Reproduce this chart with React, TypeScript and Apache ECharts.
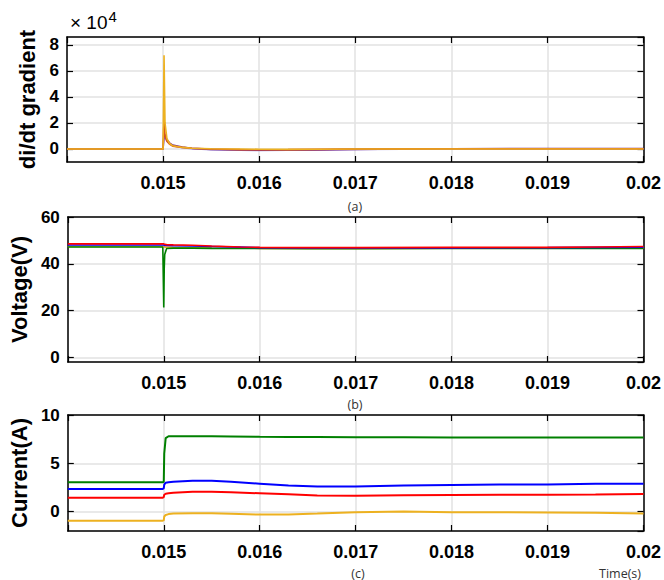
import React, { useEffect, useRef } from "react";
import * as echarts from "echarts";

// ---------- Data ----------
// Panel (a): di/dt gradient (x 10^4)
const tA = [0.014, 0.01499, 0.015, 0.01501, 0.01502, 0.01504, 0.01507, 0.0151, 0.0152, 0.0153, 0.0155, 0.0158, 0.016, 0.0163, 0.0166, 0.017, 0.0175, 0.018, 0.019, 0.02];
const didtYellow = [0, 0, 0, 7.2, 2.0, 0.8, 0.4, 0.25, 0.12, 0.06, 0.02, 0.0, -0.02, -0.03, -0.02, 0, 0, 0, 0, 0];
const didtPurple = [0, 0, 0, 1.2, 1.1, 0.7, 0.45, 0.3, 0.15, 0.05, -0.03, -0.08, -0.1, -0.1, -0.08, -0.03, 0, 0.02, 0.03, 0.03];
const didtOrange = [0, 0, 0, 2.4, 1.0, 0.6, 0.35, 0.22, 0.12, 0.06, 0.0, -0.05, -0.06, -0.05, -0.03, 0, 0.01, 0.02, 0.02, 0.02];
const didtLavender = [0, 0, 0, 1.0, 0.9, 0.6, 0.4, 0.25, 0.1, 0.02, -0.06, -0.1, -0.12, -0.1, -0.07, -0.03, -0.01, 0.0, 0.01, 0.01];

// Panel (b): Voltage (V)
const tB = [0.014, 0.01499, 0.015, 0.015005, 0.01501, 0.01503, 0.0151, 0.0153, 0.0155, 0.0158, 0.016, 0.0165, 0.017, 0.018, 0.019, 0.0195, 0.02];
const vRed = [48.5, 48.5, 48.5, 48.4, 48.3, 48.2, 48.1, 47.9, 47.6, 47.2, 47.0, 46.9, 46.9, 47.0, 47.0, 47.2, 47.4];
const vBlue = [48.0, 48.0, 48.0, 47.9, 47.8, 47.8, 47.7, 47.6, 47.4, 47.1, 46.9, 46.8, 46.8, 46.8, 46.9, 47.0, 47.1];
const vYellow = [47.4, 47.4, 47.4, 47.2, 47.1, 47.1, 47.0, 46.9, 46.8, 46.7, 46.6, 46.6, 46.6, 46.7, 46.7, 46.8, 46.9];
const vGreen = [47.2, 47.2, 21.3, 38.0, 44.0, 46.5, 46.7, 46.7, 46.6, 46.5, 46.5, 46.4, 46.4, 46.5, 46.5, 46.6, 46.6];

// Panel (c): Current (A)
const tC = [0.014, 0.01499, 0.015, 0.015005, 0.01502, 0.01505, 0.0151, 0.0153, 0.0155, 0.0157, 0.016, 0.0163, 0.0166, 0.017, 0.0175, 0.018, 0.0185, 0.019, 0.0195, 0.02];
const iGreen = [3.04, 3.04, 3.1, 6.0, 7.6, 7.8, 7.8, 7.8, 7.8, 7.78, 7.74, 7.72, 7.72, 7.7, 7.7, 7.68, 7.68, 7.67, 7.67, 7.67];
const iBlue = [2.35, 2.35, 2.4, 2.8, 3.0, 3.05, 3.1, 3.2, 3.2, 3.1, 2.9, 2.7, 2.6, 2.6, 2.7, 2.75, 2.8, 2.8, 2.9, 2.9];
const iRed = [1.45, 1.45, 1.5, 1.75, 1.85, 1.9, 1.95, 2.05, 2.05, 2.0, 1.9, 1.8, 1.68, 1.65, 1.7, 1.72, 1.75, 1.76, 1.78, 1.82];
const iOrange = [-0.93, -0.93, -0.9, -0.5, -0.34, -0.25, -0.2, -0.17, -0.17, -0.22, -0.3, -0.3, -0.2, -0.05, 0.02, -0.05, -0.07, -0.08, -0.12, -0.18];

const xTickLabels = ["0.015", "0.016", "0.017", "0.018", "0.019", "0.02"];
const yNames = ["di/dt gradient", "Voltage(V)", "Current(A)"];
const panelTags = ["(a)", "(b)", "(c)"];

const FONT = "'Liberation Sans', Arial, Helvetica, sans-serif";

const zip = (t: number[], v: number[]) => t.map((x, i) => [x, v[i]]);

export default function App() {
  const ref = useRef<HTMLDivElement>(null);
  useEffect(() => {
    if (!ref.current) return;
    const chart = echarts.init(ref.current, null, { renderer: "svg" });

    const grids = [
      { left: 67, right: 20, top: 37, height: 125 },
      { left: 67, right: 20, top: 217, height: 145 },
      { left: 67, right: 20, top: 415, height: 116 },
    ];
    const yRanges = [
      { min: -1, max: 8.6, splitNumber: 5, nameGap: 28 },
      { min: -2, max: 60, splitNumber: 3, nameGap: 33 },
      { min: -2, max: 10, splitNumber: 3, nameGap: 33 },
    ];
    const axisLine = { show: true, onZero: false, lineStyle: { color: "#000", width: 1.5 } };
    const tick = { show: true, inside: true, length: 6, lineStyle: { color: "#000", width: 1.2 } };
    const grid = { show: true, lineStyle: { color: "#e2e2e2", width: 1.5 } };

    const xAxes: any[] = [];
    const yAxes: any[] = [];
    grids.forEach((g, i) => {
      xAxes.push({
        type: "value", gridIndex: i, position: "bottom", min: 0.014, max: 0.02, interval: 0.001,
        axisLine, axisTick: tick, splitLine: grid,
        axisLabel: {
          color: "#000", fontWeight: "bold", fontSize: 18, fontFamily: FONT, margin: 12,
          formatter: (v: number) => {
            const s = String(Number(v.toFixed(3)));
            return xTickLabels.indexOf(s) >= 0 ? s : "";
          },
        },
      });
      xAxes.push({
        type: "value", gridIndex: i, position: "top", min: 0.014, max: 0.02, interval: 0.001,
        axisLine, axisTick: tick, splitLine: { show: false }, axisLabel: { show: false },
      });
      const r = yRanges[i];
      yAxes.push({
        type: "value", gridIndex: i, position: "left", min: r.min, max: r.max, splitNumber: r.splitNumber,
        axisLine, axisTick: tick, splitLine: grid,
        axisLabel: { color: "#000", fontWeight: "bold", fontSize: 17, fontFamily: FONT, margin: 8, showMinLabel: false, showMaxLabel: i === 0 ? false : true },
        name: yNames[i], nameLocation: "middle", nameGap: r.nameGap,
        nameTextStyle: { color: "#000", fontWeight: "bold", fontSize: 22, fontFamily: FONT },
      });
      yAxes.push({
        type: "value", gridIndex: i, position: "right", min: r.min, max: r.max, splitNumber: r.splitNumber,
        axisLine, axisTick: tick, splitLine: { show: false }, axisLabel: { show: false },
      });
    });

    const line = (name: string, t: number[], v: number[], color: string, panel: number, width = 1.6) => ({
      name, type: "line", xAxisIndex: panel * 2, yAxisIndex: panel * 2, data: zip(t, v),
      showSymbol: false, symbol: "none", lineStyle: { color, width }, itemStyle: { color },
    });

    const series = [
      line("di/dt 4", tA, didtLavender, "#9b8fe0", 0),
      line("di/dt 2", tA, didtPurple, "#7e2f8e", 0),
      line("di/dt 3", tA, didtOrange, "#d95319", 0),
      line("di/dt 1", tA, didtYellow, "#edb120", 0),
      line("V4", tB, vYellow, "#edb120", 1),
      line("V3", tB, vGreen, "#008000", 1),
      line("V2", tB, vBlue, "#0000ff", 1),
      line("V1", tB, vRed, "#ff0000", 1),
      line("I4", tC, iOrange, "#edb120", 2, 2),
      line("I3", tC, iRed, "#ff0000", 2, 2),
      line("I2", tC, iBlue, "#0000ff", 2, 2),
      line("I1", tC, iGreen, "#008000", 2, 2),
    ];

    const tagPos = [
      { x: 355, y: 206 },
      { x: 355, y: 404 },
      { x: 358, y: 573 },
    ];
    const smallText = { fill: "#333", fontSize: 12.5, fontFamily: "'Open Sans', 'Noto Sans', sans-serif" };

    chart.setOption({
      animation: false,
      backgroundColor: "#fff",
      grid: grids,
      xAxis: xAxes,
      yAxis: yAxes,
      series,
      graphic: [
        {
          type: "text", left: 70, top: 9,
          style: {
            text: "{a|× 10}{b|4}",
            rich: {
              a: { fontSize: 19, fontFamily: FONT, fill: "#000" },
              b: { fontSize: 15, fontFamily: FONT, fill: "#000", padding: [0, 0, 12, 1] },
            },
          },
        },
        ...panelTags.map((s, i) => ({
          type: "text", x: tagPos[i].x, y: tagPos[i].y,
          style: { ...smallText, text: s, textAlign: "center", textVerticalAlign: "middle" },
        })),
        {
          type: "text", x: 620, y: 573,
          style: { ...smallText, text: "Time(s)", textAlign: "center", textVerticalAlign: "middle" },
        },
      ],
    });
    return () => chart.dispose();
  }, []);
  return <div ref={ref} style={{ position: "fixed", left: 0, top: 0, width: 664, height: 580 }} />;
}
